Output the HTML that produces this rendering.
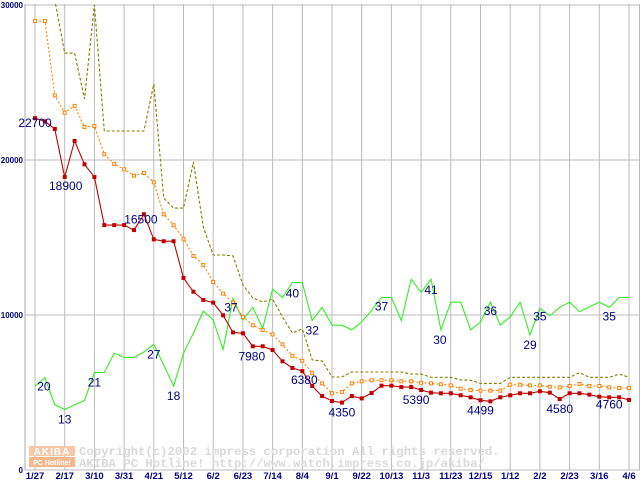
<!DOCTYPE html>
<html><head><meta charset="utf-8"><style>
html,body{margin:0;padding:0;background:#fff;}
svg{display:block;}
</style></head><body>
<svg id="chart" width="640" height="480" xmlns="http://www.w3.org/2000/svg" font-family="Liberation Sans, sans-serif"></svg>
<script>
const xLabels=["1/27","2/17","3/10","3/31","4/21","5/12","6/2","6/23","7/14","8/4","9/1","9/22","10/13","11/3","11/23","12/15","1/12","2/2","2/23","3/16","4/6"];
const yTicks=[0,10000,20000,30000];
const redVals=[22700,22500,22000,18900,21230,19720,18900,15800,15800,15800,15480,16500,14880,14760,14760,12390,11500,10970,10800,9980,8880,8820,7980,7980,7740,7010,6580,6380,5420,4770,4450,4350,4770,4620,4970,5440,5440,5350,5350,5160,4990,4950,4950,4820,4690,4499,4430,4690,4820,4950,4950,5080,4990,4580,4950,4950,4860,4730,4690,4690,4520];
const orangeVals=[28970,28970,24170,23050,23490,22130,22190,20370,19750,19400,18990,19160,18560,16500,15790,14920,13810,13230,12130,11380,10800,9870,9340,9030,8750,8110,7370,7050,6240,5590,4950,5030,5590,5720,5790,5790,5790,5720,5720,5630,5590,5530,5460,5250,5160,5120,5120,5120,5500,5500,5460,5460,5370,5330,5420,5550,5420,5420,5330,5290,5290];
const oliveVals=[34000,33000,30320,26900,26900,23940,30000,21870,21870,21870,21870,21870,24900,17550,16900,16900,19870,15680,13870,13870,13810,11940,11100,10840,11030,9870,8840,9100,7100,7030,6000,6000,6320,6320,6320,6320,6320,6320,6190,6190,5980,5980,5980,5810,5790,5590,5590,5590,5980,5980,5980,5980,5980,5980,5980,6280,5980,5980,5980,6190,5980];
const greenVals=[17.9,19.7,13.9,12.9,13.9,14.8,20.8,20.8,24.9,24,24,25.2,26.8,22.4,17.9,24.9,29.2,33.9,32,25.7,36.6,32,34.7,30.2,38.6,36.8,40,40,31.9,34.7,30.9,30.9,29.9,31.6,34.1,36.8,36.8,31.9,40.7,37.9,40.7,29.9,35.8,35.8,29.9,31.6,35.8,30.9,32.7,35.8,28.8,34.5,32.9,34.7,35.8,33.8,34.8,35.8,34.7,36.8,36.8];
const priceLabels=[["22700",0,0,9],["18900",3,1,13],["16500",11,-3,9],["7980",22,-1,14],["6380",27,2,13],["4350",31,0,14],["5390",39,-5,14],["4499",45,0,14],["4580",53,0,14],["4760",58,0,11]];
const countLabels=[["20",1,-1,13],["13",3,0,14],["21",6,0,14],["27",12,0,14],["18",14,0,14],["37",20,-2,13],["40",26,0,15],["32",28,0,14],["37",35,0,13],["41",40,0,15],["30",41,-1,14],["36",46,0,13],["29",50,0,14],["35",51,0,12],["35",58,0,13]];

const NS="http://www.w3.org/2000/svg";
const svg=document.getElementById('chart');
const X0=35,DX=9.9,Y0=470,PXV=155/10000,PXC=4.6875;
const xs=i=>X0+i*DX;
const yv=v=>Y0-v*PXV;
const yc=v=>Y0-v*PXC;
function mk(tag,attrs,parent){const e=document.createElementNS(NS,tag);for(const k in attrs)e.setAttribute(k,attrs[k]);(parent||svg).appendChild(e);return e;}

const defs=mk('defs',{});
const cp=mk('clipPath',{id:'plot'},defs);
mk('rect',{x:25,y:4,width:615,height:466},cp);

const grid=mk('g',{});


xLabels.forEach((l,k)=>{const x=xs(k*3);mk('line',{x1:x,y1:4,x2:x,y2:470,stroke:'#bbb','stroke-width':1},grid);});
yTicks.forEach(v=>{const y=Math.max(4,yv(v));mk('line',{x1:25,y1:y,x2:640,y2:y,stroke:'#bbb','stroke-width':1},grid);});
mk('line',{x1:25,y1:4,x2:25,y2:470,stroke:'#aaa'},grid);
mk('line',{x1:639.5,y1:4,x2:639.5,y2:470,stroke:'#bbb'},grid);

const wm=mk('g',{});


mk('rect',{x:29,y:446,width:46,height:10,fill:'#f6c9a8'},wm);
mk('rect',{x:29,y:457,width:46,height:10,fill:'#f4b88f'},wm);
const t1=mk('text',{x:52,y:455,'font-size':10,'font-weight':'bold',fill:'#fff','text-anchor':'middle','letter-spacing':'1'},wm);t1.textContent='AKIBA';
const t2=mk('text',{x:52,y:465,'font-size':7,'font-weight':'bold',fill:'#fff','text-anchor':'middle'},wm);t2.textContent='PC Hotline!';
const c1=mk('text',{x:79,y:455,'font-size':12.3,'font-family':'Liberation Mono, monospace','font-weight':'bold',fill:'#dadada'},wm);c1.textContent='Copyright(c)2002 impress corporation All rights reserved.';
const c2=mk('text',{x:79,y:467,'font-size':12.3,'font-family':'Liberation Mono, monospace','font-weight':'bold',fill:'#dadada','xml:space':'preserve'},wm);c2.textContent='AKIBA PC Hotline!  http://www.watch.impress.co.jp/akiba/';

function series(vals,fy,color,dash,name,marker,fillMarker){
  const g=mk('g',{'clip-path':'url(#plot)'});
  
  
  const pts=vals.map((v,i)=>xs(i).toFixed(1)+','+fy(v).toFixed(1)).join(' ');
  const a={points:pts,fill:'none',stroke:color,'stroke-width':1.1};
  if(dash)a['stroke-dasharray']=dash;
  mk('polyline',a,g);
  if(marker){vals.forEach((v,i)=>{mk('rect',{x:xs(i)-1.5,y:fy(v)-1.5,width:3,height:3,fill:fillMarker?color:'#fff',stroke:color,'stroke-width':1},g);});}
}
series(oliveVals,yv,'#808000','3,2','max-price-line',false);
series(greenVals,yc,'#33ee22',null,'shop-count-line',false);
series(orangeVals,yv,'#ff8000','2,2','average-price-line',true,false);
series(redVals,yv,'#c00000',null,'min-price-line',true,true);

function labels(arr,vals,fy,name){
  const g=mk('g',{});
  
  
  arr.forEach(([t,i,dx,dy])=>{const e=mk('text',{x:xs(i)+dx,y:fy(vals[i])+dy,'font-size':12,fill:'#000080','text-anchor':'middle'},g);e.textContent=t;});
}
labels(priceLabels,redVals,yv,'price-value-labels');
labels(countLabels,greenVals,yc,'shop-count-labels');

const ya=mk('g',{});


yTicks.forEach(v=>{const e=mk('text',{x:23,y:Math.max(7,yv(v)+3),'font-size':8,'font-weight':'bold',fill:'#000080','text-anchor':'end'},ya);e.textContent=String(v);});
const xa=mk('g',{});


xLabels.forEach((l,k)=>{const e=mk('text',{x:xs(k*3),y:479,'font-size':9.5,'font-weight':'bold',fill:'#000080','text-anchor':'middle'},xa);e.textContent=l;});
</script>
</body></html>
